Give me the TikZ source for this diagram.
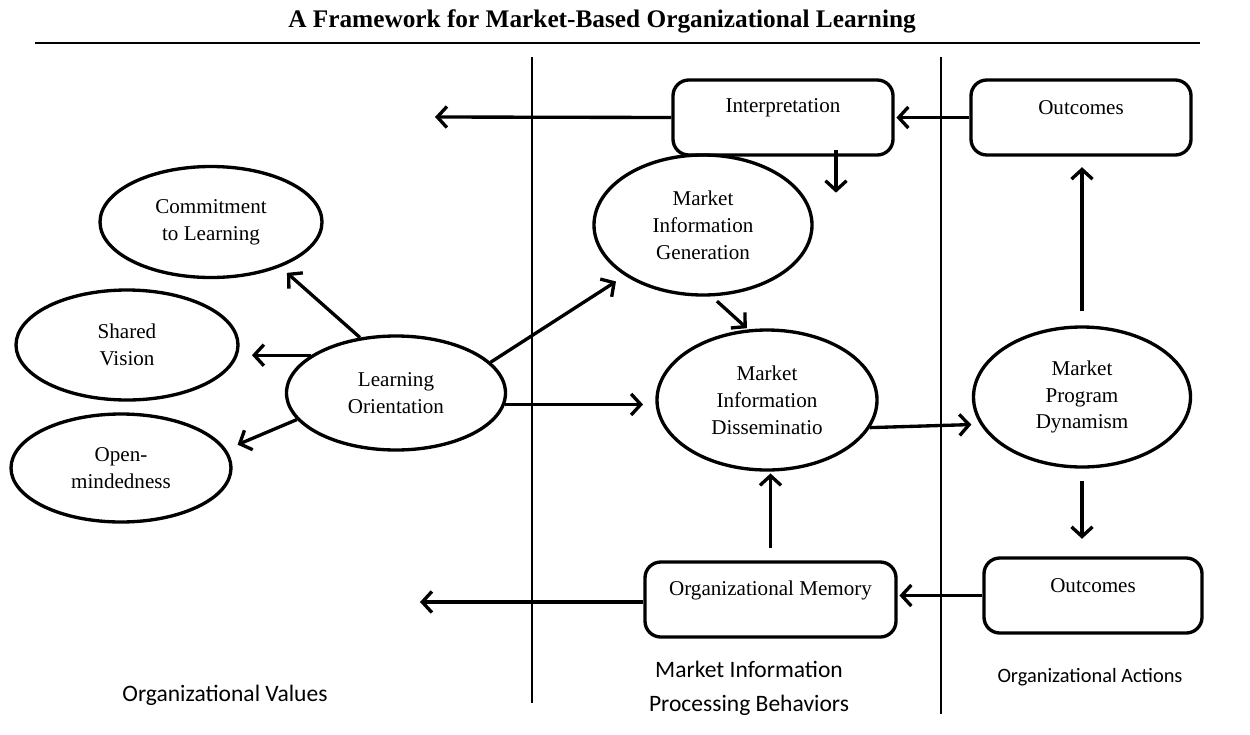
\documentclass[tikz,border=0pt]{standalone}
\usepackage{fontspec}
\setmainfont{Liberation Serif}
\newfontfamily\labfont{Carlito}
\usetikzlibrary{arrows.meta,shapes.geometric,calc}
\begin{document}
\begin{tikzpicture}[x=0.02cm,y=-0.02cm,
  every node/.style={font=\fontsize{12}{15.3}\selectfont, align=center, inner sep=0pt},
  ell/.style={ellipse, draw, line width=1.9pt},
  rbox/.style={rectangle, rounded corners=9pt, draw, line width=1.9pt},
  arr/.style={line width=1.9pt, -{Straight Barb[length=5.5pt,width=12pt,line width=1.9pt]}},
  divider/.style={line width=0.7pt},
  grouplabel/.style={font=\labfont\fontsize{13.4}{19.3}\selectfont}
]
\useasboundingbox (0,0) rectangle (1250,734);

% title
\node[font=\bfseries\fontsize{14.4}{17}\selectfont] (title) at (602,21) {A Framework for Market-Based Organizational Learning};
\draw[line width=1.3pt] (35,43) -- (1200,43);

% dividers
\draw[divider] (532,57) -- (532,703);
\draw[divider] (941,57) -- (941,714);

% ellipses
\node[ell, minimum width=222*0.02cm, minimum height=111*0.02cm] (commit) at (211,222) {Commitment\\to Learning};
\node[ell, minimum width=222*0.02cm, minimum height=110*0.02cm] (shared) at (127,345) {Shared\\Vision};
\node[ell, minimum width=220*0.02cm, minimum height=108*0.02cm] (open) at (121,468) {Open-\\mindedness};
\node[ell, minimum width=219*0.02cm, minimum height=114*0.02cm] (lo) at (396,393) {Learning\\Orientation};
\node[ell, minimum width=218*0.02cm, minimum height=140*0.02cm] (mig) at (703,225) {Market\\Information\\Generation};
\node[ell, minimum width=220*0.02cm, minimum height=140*0.02cm] (mid) at (767,400) {Market\\Information\\Disseminatio};
\node[ell, minimum width=217*0.02cm, minimum height=140*0.02cm] (mpd) at (1082,397) {Market\\Program\\Dynamism};

% boxes
\node[rbox, minimum width=220*0.02cm, minimum height=75*0.02cm,
  label={[yshift=5.7pt]center:Interpretation}] (interp) at (783,117.5) {};
\node[rbox, minimum width=220*0.02cm, minimum height=75*0.02cm,
  label={[yshift=5.7pt]center:Outcomes}] (outtop) at (1081,117.5) {};
\node[rbox, minimum width=251*0.02cm, minimum height=75*0.02cm,
  label={[yshift=5pt]center:Organizational Memory}] (om) at (770.5,599.5) {};
\node[rbox, minimum width=218*0.02cm, minimum height=75*0.02cm,
  label={[yshift=5.4pt]center:Outcomes}] (outbot) at (1093,595.5) {};

% group labels
\node[grouplabel] (valueslab) at (225,695) {Organizational Values};
\node[grouplabel] (mipblab) at (749,688) {Market Information\\Processing Behaviors};
\node[grouplabel, font=\labfont\fontsize{11.6}{14}\selectfont] (actionslab) at (1090,677) {Organizational Actions};

% free ends
\coordinate (interpfree) at (435,117);
\coordinate (omfree) at (420,602);
\coordinate (idstart) at ($(interp.south)+(53,-7)$);
\coordinate (idend) at ($(interp.south)+(53,36)$);

% connectors
\draw[arr, shorten >=5pt] (lo.123) -- (commit.-33);
\draw[arr, shorten >=7pt] (lo.156) -- (lo.156 -| shared.east);
\draw[arr, shorten >=7pt] (lo.195) -- (open.10);
\draw[arr, shorten >=6pt] (lo.18) -- (mig.213);
\draw[arr, shorten >=7pt] (lo.-6) -- (lo.-6 -| mid.west);
\draw[arr, shorten <=4pt, shorten >=1pt] (mig.-83) -- (mid.105);
\draw[arr, shorten >=5pt] (mid.-15) -- (mpd.195);
\draw[arr, shorten <=8pt, shorten >=6pt] (mpd.north) -- (mpd.north |- outtop.south);
\draw[arr, shorten <=7pt, shorten >=10pt] (mpd.south) -- (mpd.south |- outbot.north);
\draw[arr, shorten >=1pt] (outbot.west) -- (outbot.west -| om.east);
\draw[arr, shorten <=7pt, shorten >=1pt] (om.north) -- (om.north |- mid.south);
\draw[arr] (om.west |- omfree) -- (omfree);
\draw[arr, shorten >=1pt] (outtop.west) -- (interp.east);
\draw[arr] (interp.west) -- (interpfree);
\draw[arr] (idstart) -- (idend);
\end{tikzpicture}
\end{document}
